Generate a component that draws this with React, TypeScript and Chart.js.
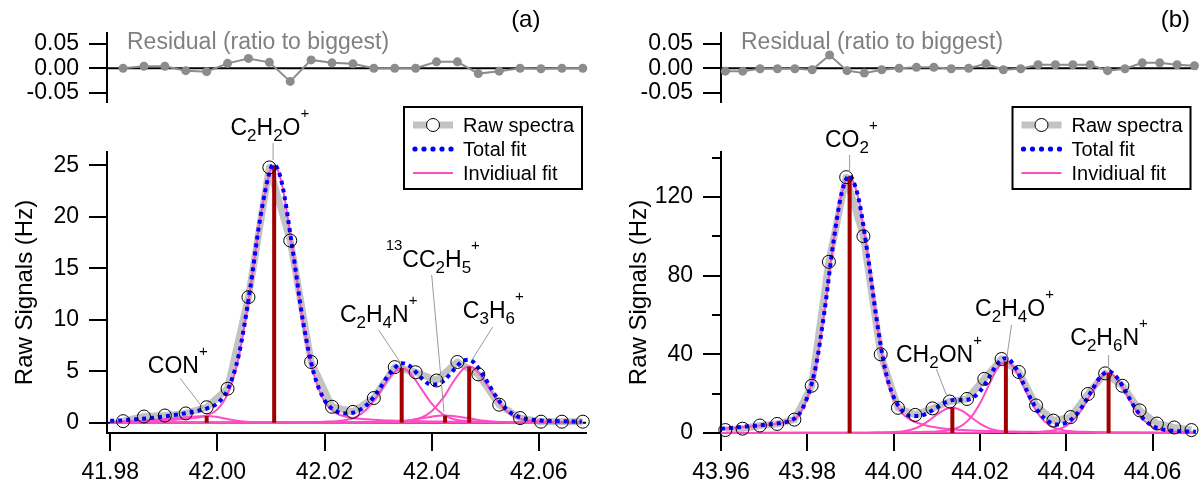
import React, { useEffect, useRef } from "react";
import { Chart, registerables } from "chart.js";

Chart.register(...registerables);

if (typeof document !== "undefined") {
  document.body.style.margin = "0";
}

const FONT = "'Liberation Sans', Arial, Helvetica, sans-serif";
Chart.defaults.font.family = FONT;

const C_RAW = "#c3c3c3";
const C_TOTAL = "#0000ff";
const C_INDIV = "#ff4dc4";
const C_STEM = "#a00000";
const C_RESID = "#8c8c8c";
const C_LEADER = "#9a9a9a";

// ---------------- Panel (a) data ----------------
const rawXA = [41.9824, 41.9863, 41.9902, 41.9941, 41.998, 42.0019, 42.0058, 42.0097, 42.0136, 42.0175, 42.0214, 42.0253, 42.0292, 42.0331, 42.037, 42.0409, 42.0448, 42.0487, 42.0526, 42.0565, 42.0604, 42.0643, 42.0682];
const rawYA = [0.15, 0.6, 0.7, 0.9, 1.5, 3.3, 12.2, 24.8, 17.7, 5.9, 1.55, 1.05, 2.4, 5.4, 4.9, 4.1, 5.9, 4.7, 1.75, 0.45, 0.1, 0.1, 0.1];
const residA = [0, 0.004, 0.004, -0.005, -0.007, 0.01, 0.02, 0.012, -0.027, 0.017, 0.011, 0.009, 0, 0, 0, 0.013, 0.013, -0.011, -0.006, 0, -0.001, 0, 0];

const fitXA = [41.98, 41.982, 41.984, 41.986, 41.988, 41.99, 41.992, 41.994, 41.996, 41.998, 42.0, 42.002, 42.004, 42.006, 42.008, 42.01, 42.0106, 42.012, 42.014, 42.016, 42.018, 42.02, 42.022, 42.024, 42.026, 42.028, 42.03, 42.032, 42.034, 42.0344, 42.036, 42.038, 42.04, 42.042, 42.0425, 42.044, 42.046, 42.047, 42.048, 42.05, 42.052, 42.054, 42.056, 42.058, 42.06, 42.062, 42.064, 42.066, 42.068];
const fitTotalA = [0.18, 0.22, 0.3, 0.38, 0.48, 0.61, 0.75, 0.91, 1.11, 1.38, 1.89, 3.28, 6.6, 12.61, 19.88, 24.76, 25.06, 23.37, 16.98, 9.79, 4.81, 2.19, 1.17, 0.9, 1.09, 1.79, 3.07, 4.67, 5.72, 5.78, 5.47, 4.38, 3.69, 3.97, 4.18, 5.07, 6.04, 6.11, 5.78, 4.28, 2.56, 1.28, 0.61, 0.33, 0.22, 0.18, 0.15, 0.13, 0.11];
const fitCON = [0.05, 0.08, 0.13, 0.19, 0.26, 0.34, 0.43, 0.52, 0.61, 0.65, 0.55, 0.34, 0.16, 0.07, 0.03, 0.015, 0.013, 0.01, 0.008, 0.006, 0.006, 0.005, 0.004, 0.004, 0.004, 0.003, 0.003, 0.003, 0.003, 0.003, 0.003, 0.003, 0.003, 0.002, 0.002, 0.002, 0.002, 0.002, 0.002, 0.002, 0.002, 0.002, 0.002, 0.002, 0.002, 0.002, 0.002, 0.002, 0.002];
const fitC2H2O = [0.11, 0.12, 0.15, 0.17, 0.2, 0.24, 0.29, 0.36, 0.47, 0.7, 1.3, 2.9, 6.4, 12.5, 19.8, 24.7, 25.0, 23.3, 16.9, 9.7, 4.7, 2.05, 0.98, 0.58, 0.42, 0.33, 0.26, 0.22, 0.19, 0.19, 0.17, 0.14, 0.12, 0.11, 0.11, 0.1, 0.09, 0.09, 0.08, 0.07, 0.07, 0.06, 0.06, 0.05, 0.05, 0.045, 0.04, 0.035, 0.03];
const fitC2H4N = [0.01, 0.01, 0.01, 0.01, 0.012, 0.013, 0.014, 0.015, 0.017, 0.018, 0.02, 0.02, 0.02, 0.025, 0.03, 0.03, 0.03, 0.04, 0.05, 0.06, 0.07, 0.1, 0.14, 0.26, 0.6, 1.38, 2.7, 4.29, 5.27, 5.3, 4.82, 3.34, 1.86, 0.84, 0.69, 0.36, 0.18, 0.15, 0.11, 0.08, 0.07, 0.05, 0.045, 0.04, 0.03, 0.03, 0.025, 0.02, 0.02];
const fit13CC2H5 = [0.002, 0.002, 0.002, 0.002, 0.002, 0.002, 0.002, 0.002, 0.002, 0.002, 0.003, 0.003, 0.003, 0.003, 0.003, 0.004, 0.004, 0.005, 0.005, 0.006, 0.006, 0.007, 0.009, 0.011, 0.014, 0.02, 0.033, 0.067, 0.13, 0.15, 0.26, 0.42, 0.59, 0.7, 0.7, 0.66, 0.51, 0.42, 0.33, 0.18, 0.095, 0.046, 0.025, 0.018, 0.012, 0.011, 0.01, 0.009, 0.008];
const fitC3H6 = [0.01, 0.01, 0.01, 0.01, 0.01, 0.01, 0.01, 0.01, 0.01, 0.01, 0.015, 0.015, 0.015, 0.015, 0.015, 0.015, 0.015, 0.018, 0.02, 0.022, 0.025, 0.03, 0.035, 0.04, 0.05, 0.06, 0.07, 0.09, 0.13, 0.14, 0.22, 0.48, 1.12, 2.32, 2.68, 3.95, 5.26, 5.45, 5.26, 3.95, 2.32, 1.12, 0.48, 0.22, 0.13, 0.09, 0.07, 0.06, 0.05];

const peakXA = [41.998, 42.0106, 42.0344, 42.0425, 42.047];
const peakHA = [0.65, 25.0, 5.3, 0.7, 5.45];
const peakNamesA = ["CON^+", "C_2H_2O^+", "C_2H_4N^+", "^{13}CC_2H_5^+", "C_3H_6^+"];

const xTicksA = [41.98, 42.0, 42.02, 42.04, 42.06];
const yTicksA = [0, 5, 10, 15, 20, 25];

// ---------------- Panel (b) data ----------------
const rawXB = [43.961, 43.965, 43.969, 43.973, 43.977, 43.981, 43.985, 43.989, 43.993, 43.997, 44.001, 44.005, 44.009, 44.013, 44.017, 44.021, 44.025, 44.029, 44.033, 44.037, 44.041, 44.045, 44.049, 44.053, 44.057, 44.061, 44.065, 44.069];
const rawYB = [1.5, 2.2, 3.8, 4.6, 6.8, 24, 87, 130, 100, 40, 12.8, 9.2, 12.5, 16, 17.3, 27.5, 37.6, 31, 14, 6.3, 8.1, 19.8, 30.3, 24, 11.5, 4.8, 2.8, 1.5];
const residB = [-0.006, -0.006, -0.001, -0.001, -0.001, -0.003, 0.027, -0.005, -0.01, -0.003, 0, 0.002, 0.002, -0.001, 0, 0.009, -0.003, -0.001, 0.007, 0.007, 0.007, 0.007, -0.005, -0.001, 0.011, 0.011, 0.007, 0.005];

const fitXB = [43.96, 43.962, 43.964, 43.966, 43.968, 43.97, 43.972, 43.974, 43.976, 43.978, 43.98, 43.982, 43.984, 43.986, 43.988, 43.9898, 43.99, 43.992, 43.994, 43.996, 43.998, 44.0, 44.002, 44.004, 44.006, 44.008, 44.01, 44.012, 44.0136, 44.014, 44.016, 44.018, 44.02, 44.022, 44.024, 44.026, 44.028, 44.03, 44.032, 44.034, 44.036, 44.038, 44.04, 44.042, 44.044, 44.046, 44.048, 44.0498, 44.05, 44.052, 44.054, 44.056, 44.058, 44.06, 44.062, 44.064, 44.066, 44.068, 44.07];
const fitTotalB = [2.22, 2.52, 2.93, 3.35, 3.65, 4.16, 4.57, 5.18, 6.2, 9.21, 18.23, 34.23, 62.25, 96.27, 122.3, 130.82, 130.62, 117.86, 90.42, 58.49, 32.61, 18.31, 11.23, 8.65, 8.67, 10.29, 12.98, 15.51, 16.69, 16.78, 16.81, 17.57, 21.19, 27.81, 35.1, 38.01, 34.13, 25.42, 16.38, 9.56, 5.67, 4.35, 5.24, 8.63, 14.41, 21.96, 28.75, 31.17, 31.17, 27.39, 20.04, 12.48, 6.94, 3.56, 1.97, 1.26, 0.95, 0.79, 0.67];
const fitCO2 = [2.1, 2.4, 2.8, 3.2, 3.5, 4.0, 4.4, 5.0, 6.0, 9.0, 18, 34, 62, 96, 122, 130.5, 130.3, 117.5, 90, 58, 32, 17.5, 10, 6.5, 4.8, 3.6, 2.8, 2.2, 1.9, 1.8, 1.5, 1.3, 1.1, 1.0, 0.9, 0.8, 0.72, 0.65, 0.58, 0.52, 0.47, 0.43, 0.4, 0.37, 0.34, 0.31, 0.29, 0.27, 0.27, 0.25, 0.24, 0.22, 0.21, 0.2, 0.19, 0.18, 0.17, 0.16, 0.15];
const fitCH2ON = [0.05, 0.05, 0.05, 0.06, 0.06, 0.06, 0.07, 0.07, 0.08, 0.08, 0.09, 0.09, 0.1, 0.1, 0.11, 0.12, 0.12, 0.14, 0.17, 0.22, 0.3, 0.45, 0.82, 1.67, 3.3, 6.0, 9.3, 12.05, 12.9, 12.85, 11.1, 7.9, 4.8, 2.5, 1.25, 0.62, 0.37, 0.26, 0.2, 0.16, 0.14, 0.12, 0.1, 0.09, 0.08, 0.07, 0.06, 0.055, 0.055, 0.05, 0.045, 0.04, 0.04, 0.035, 0.033, 0.03, 0.028, 0.026, 0.025];
const fitC2H4O = [0.05, 0.05, 0.06, 0.06, 0.06, 0.07, 0.07, 0.08, 0.08, 0.09, 0.1, 0.1, 0.11, 0.12, 0.14, 0.15, 0.15, 0.17, 0.19, 0.21, 0.25, 0.29, 0.34, 0.4, 0.48, 0.59, 0.77, 1.14, 1.76, 2.0, 4.06, 8.2, 15.1, 24.1, 32.7, 36.3, 32.7, 24.1, 15.1, 8.2, 4.06, 2.0, 1.14, 0.77, 0.59, 0.48, 0.4, 0.34, 0.34, 0.29, 0.25, 0.22, 0.19, 0.17, 0.155, 0.14, 0.125, 0.11, 0.1];
const fitC2H6N = [0.02, 0.02, 0.02, 0.03, 0.03, 0.03, 0.03, 0.03, 0.04, 0.04, 0.04, 0.04, 0.04, 0.05, 0.05, 0.05, 0.05, 0.05, 0.06, 0.06, 0.06, 0.07, 0.07, 0.08, 0.09, 0.1, 0.11, 0.12, 0.13, 0.13, 0.15, 0.17, 0.19, 0.21, 0.25, 0.29, 0.34, 0.41, 0.5, 0.68, 1.0, 1.8, 3.6, 7.4, 13.4, 21.1, 28.0, 30.5, 30.5, 26.8, 19.5, 12.0, 6.5, 3.15, 1.59, 0.91, 0.63, 0.49, 0.39];

const peakXB = [43.9898, 44.0136, 44.026, 44.0498];
const peakHB = [130.5, 12.9, 36.3, 30.5];
const peakNamesB = ["CO_2^+", "CH_2ON^+", "C_2H_4O^+", "C_2H_6N^+"];

const xTicksB = [43.96, 43.98, 44.0, 44.02, 44.04, 44.06];
const yTicksB = [0, 40, 80, 120];
const yMinorB = [20, 60, 100, 140];

const residTicks = [-0.05, 0, 0.05];

// label layout (data coordinates): label centre x, baseline y, leader line x1,y1 -> x2,y2
const labelLayoutA = [
  { cx: 41.9926, by: 4.83, x1: 41.993, y1: 4.34, x2: 41.9973, y2: 1.43 },
  { cx: 42.0098, by: 27.95, x1: 42.0104, y1: 27.17, x2: 42.0104, y2: 25.52 },
  { cx: 42.0301, by: 9.78, x1: 42.0301, y1: 9.0, x2: 42.0341, y2: 5.9 },
  { cx: 42.0402, by: 15.13, x1: 42.04, y1: 14.35, x2: 42.0423, y2: 1.04 },
  { cx: 42.0515, by: 10.17, x1: 42.0514, y1: 9.3, x2: 42.0475, y2: 6.09 },
];
const labelLayoutB = [
  { cx: 43.9902, by: 145.3, x1: 43.9898, y1: 141.3, x2: 43.9898, y2: 132.6 },
  { cx: 44.0105, by: 36.1, x1: 44.0099, y1: 32.5, x2: 44.0124, y2: 18.3 },
  { cx: 44.028, by: 59.5, x1: 44.0273, y1: 54.9, x2: 44.0262, y2: 38.1 },
  { cx: 44.0499, by: 44.7, x1: 44.0498, y1: 39.6, x2: 44.0498, y2: 32.0 },
];

// ---------------- helpers ----------------
type Pt = { x: number; y: number };
const zip = (xs: number[], ys: number[]): Pt[] => xs.map((x, i) => ({ x, y: ys[i] }));

type Seg = { t: string; k: 0 | 1 | 2 };
function parseRich(s: string): Seg[] {
  const out: Seg[] = [];
  let buf = "";
  let i = 0;
  const flush = () => {
    if (buf) {
      out.push({ t: buf, k: 0 });
      buf = "";
    }
  };
  while (i < s.length) {
    const c = s[i];
    if (c === "_" || c === "^") {
      flush();
      i++;
      let t = "";
      if (s[i] === "{") {
        i++;
        while (i < s.length && s[i] !== "}") t += s[i++];
        i++;
      } else if (c === "_") {
        while (i < s.length && /[0-9]/.test(s[i])) t += s[i++];
      } else {
        t = s[i++];
      }
      out.push({ t, k: c === "_" ? 1 : 2 });
    } else {
      buf += c;
      i++;
    }
  }
  flush();
  return out;
}

function drawRich(ctx: CanvasRenderingContext2D, s: string, cx: number, by: number, F: number) {
  const segs = parseRich(s);
  const fontFor = (k: number) => `${k === 0 ? F : Math.round(F * (k === 1 ? 0.74 : 0.66))}px ${FONT}`;
  let w = 0;
  for (const sg of segs) {
    ctx.font = fontFor(sg.k);
    w += ctx.measureText(sg.t).width;
  }
  let x = cx - w / 2;
  ctx.textAlign = "left";
  ctx.textBaseline = "alphabetic";
  ctx.fillStyle = "#000";
  for (const sg of segs) {
    ctx.font = fontFor(sg.k);
    const dy = sg.k === 1 ? F * 0.25 : sg.k === 2 ? -F * 0.74 : 0;
    ctx.fillText(sg.t, x, by + dy);
    x += ctx.measureText(sg.t).width;
  }
}

interface PanelSpec {
  tag: string;
  rawX: number[];
  rawY: number[];
  resid: number[];
  fitX: number[];
  total: number[];
  indiv: number[][];
  peakX: number[];
  peakH: number[];
  peakNames: string[];
  layout: { cx: number; by: number; x1: number; y1: number; x2: number; y2: number }[];
  xMin: number;
  xMax: number;
  yMin: number;
  yMax: number;
  xTicks: number[];
  yTicks: number[];
  yMinor: number[];
  zeroLine: boolean;
  padRight: number;
  panelLabel: string;
  panelLabelX: number;
}

const panelA: PanelSpec = {
  tag: "a",
  rawX: rawXA,
  rawY: rawYA,
  resid: residA,
  fitX: fitXA,
  total: fitTotalA,
  indiv: [fitCON, fitC2H2O, fitC2H4N, fit13CC2H5, fitC3H6],
  peakX: peakXA,
  peakH: peakHA,
  peakNames: peakNamesA,
  layout: labelLayoutA,
  xMin: 41.9794,
  xMax: 42.0688,
  yMin: -1.0,
  yMax: 26.3,
  xTicks: xTicksA,
  yTicks: yTicksA,
  yMinor: [],
  zeroLine: true,
  padRight: 14,
  panelLabel: "(a)",
  panelLabelX: 42.0603,
};

const panelB: PanelSpec = {
  tag: "b",
  rawX: rawXB,
  rawY: rawYB,
  resid: residB,
  fitX: fitXB,
  total: fitTotalB,
  indiv: [fitCO2, fitCH2ON, fitC2H4O, fitC2H6N],
  peakX: peakXB,
  peakH: peakHB,
  peakNames: peakNamesB,
  layout: labelLayoutB,
  xMin: 43.96,
  xMax: 44.0697,
  yMin: 0,
  yMax: 142.8,
  xTicks: xTicksB,
  yTicks: yTicksB,
  yMinor: yMinorB,
  zeroLine: false,
  padRight: 2,
  panelLabel: "(b)",
  panelLabelX: 44.068,
};

const zeroPad = (s: any) => {
  s.paddingTop = 0;
  s.paddingBottom = 0;
  s.paddingLeft = 0;
  s.paddingRight = 0;
};

const tickGrid = {
  display: true,
  drawOnChartArea: false,
  drawTicks: true,
  tickLength: 18,
  tickWidth: 2,
  tickColor: "#000",
  lineWidth: 2,
  color: "#000",
};

function mainConfig(p: PanelSpec): any {
  const datasets: any[] = [];
  datasets.push({
    data: zip(p.rawX, p.rawY),
    showLine: false,
    pointRadius: 6.5,
    pointHoverRadius: 6.5,
    pointBorderColor: "#000",
    pointBackgroundColor: "rgba(0,0,0,0)",
    pointBorderWidth: 1,
    order: 0,
    clip: false,
  });
  datasets.push({
    data: zip(p.fitX, p.total),
    borderColor: C_TOTAL,
    borderWidth: 4,
    borderDash: [4, 4],
    pointRadius: 0,
    cubicInterpolationMode: "monotone",
    order: 1,
    clip: false,
  });
  p.peakX.forEach((x, i) =>
    datasets.push({
      data: [
        { x, y: 0 },
        { x, y: p.peakH[i] },
      ],
      borderColor: C_STEM,
      borderWidth: 4,
      pointRadius: 0,
      order: 2,
      clip: false,
    })
  );
  p.indiv.forEach((ys) =>
    datasets.push({
      data: zip(p.fitX, ys),
      borderColor: C_INDIV,
      borderWidth: 2,
      pointRadius: 0,
      cubicInterpolationMode: "monotone",
      order: 3,
      clip: false,
    })
  );
  datasets.push({
    data: zip(p.rawX, p.rawY),
    borderColor: C_RAW,
    borderWidth: 7,
    borderJoinStyle: "round",
    pointRadius: 0,
    order: 4,
    clip: false,
  });

  const decor = {
    id: "mainDecor" + p.tag,
    beforeDatasetsDraw(chart: any) {
      const { ctx, chartArea: ca, scales } = chart;
      const y = scales.y;
      ctx.save();
      ctx.strokeStyle = "#000";
      ctx.lineWidth = 2;
      if (p.zeroLine) {
        const py = y.getPixelForValue(0);
        ctx.beginPath();
        ctx.moveTo(ca.left, py);
        ctx.lineTo(ca.right, py);
        ctx.stroke();
      }
      for (const v of p.yMinor) {
        const py = Math.round(y.getPixelForValue(v));
        ctx.beginPath();
        ctx.moveTo(ca.left - 9, py);
        ctx.lineTo(ca.left, py);
        ctx.stroke();
      }
      ctx.restore();
    },
    afterDatasetsDraw(chart: any) {
      const { ctx, chartArea: ca, scales } = chart;
      const x = scales.x;
      const y = scales.y;
      ctx.save();
      ctx.strokeStyle = C_LEADER;
      ctx.lineWidth = 1;
      p.layout.forEach((l) => {
        ctx.beginPath();
        ctx.moveTo(x.getPixelForValue(l.x1), y.getPixelForValue(l.y1));
        ctx.lineTo(x.getPixelForValue(l.x2), y.getPixelForValue(l.y2));
        ctx.stroke();
      });
      p.layout.forEach((l, i) => {
        drawRich(ctx, p.peakNames[i], x.getPixelForValue(l.cx), y.getPixelForValue(l.by), 23);
      });
      // legend
      const bx = ca.right - 183;
      const bw = 180;
      const by = 2;
      const bh = 84;
      ctx.fillStyle = "#fff";
      ctx.fillRect(bx, by, bw, bh);
      ctx.strokeStyle = "#000";
      ctx.lineWidth = 2;
      ctx.strokeRect(bx + 1, by + 1, bw - 2, bh - 2);
      const rows = [by + 19, by + 43, by + 67];
      const sx1 = bx + 10;
      const sx2 = bx + 50;
      ctx.strokeStyle = C_RAW;
      ctx.lineWidth = 7;
      ctx.beginPath();
      ctx.moveTo(sx1, rows[0]);
      ctx.lineTo(sx2, rows[0]);
      ctx.stroke();
      ctx.beginPath();
      ctx.arc((sx1 + sx2) / 2, rows[0], 6.5, 0, Math.PI * 2);
      ctx.fillStyle = "#fff";
      ctx.fill();
      ctx.strokeStyle = "#000";
      ctx.lineWidth = 1;
      ctx.stroke();
      ctx.fillStyle = C_TOTAL;
      for (let k = 0; k < 5; k++) {
        ctx.beginPath();
        ctx.arc(sx1 + 2 + k * 9, rows[1], 2.6, 0, Math.PI * 2);
        ctx.fill();
      }
      ctx.strokeStyle = C_INDIV;
      ctx.lineWidth = 2;
      ctx.beginPath();
      ctx.moveTo(sx1, rows[2]);
      ctx.lineTo(sx2, rows[2]);
      ctx.stroke();
      ctx.fillStyle = "#000";
      ctx.font = `20px ${FONT}`;
      ctx.textAlign = "left";
      ctx.textBaseline = "middle";
      ["Raw spectra", "Total fit", "Invidiual fit"].forEach((t, i) => ctx.fillText(t, bx + 60, rows[i] + 1));
      ctx.restore();
    },
  };

  return {
    type: "line",
    data: { datasets },
    options: {
      animation: false,
      responsive: false,
      maintainAspectRatio: false,
      events: [],
      layout: { padding: { top: 48, right: p.padRight, left: 0, bottom: 0 } },
      plugins: { legend: { display: false }, tooltip: { enabled: false } },
      scales: {
        x: {
          type: "linear",
          min: p.xMin,
          max: p.xMax,
          afterBuildTicks: (s: any) => {
            s.ticks = p.xTicks.map((v) => ({ value: v }));
          },
          afterFit: (s: any) => {
            s.height = 58;
            zeroPad(s);
          },
          grid: tickGrid,
          border: { display: true, color: "#000", width: 2 },
          ticks: {
            color: "#000",
            font: { family: FONT, size: 23 },
            padding: 8,
            maxRotation: 0,
            autoSkip: false,
            callback: (v: any) => Number(v).toFixed(2),
          },
        },
        y: {
          type: "linear",
          min: p.yMin,
          max: p.yMax,
          afterBuildTicks: (s: any) => {
            s.ticks = p.yTicks.map((v) => ({ value: v }));
          },
          afterFit: (s: any) => {
            s.width = 107;
            zeroPad(s);
          },
          grid: tickGrid,
          border: { display: true, color: "#000", width: 2 },
          ticks: {
            color: "#000",
            font: { family: FONT, size: 23 },
            padding: 10,
            autoSkip: false,
            callback: (v: any) => String(v),
          },
          title: {
            display: true,
            text: "Raw Signals (Hz)",
            color: "#000",
            font: { family: FONT, size: 24 },
            padding: { top: 11, bottom: 0 },
          },
        },
      },
    },
    plugins: [decor],
  };
}

function residConfig(p: PanelSpec): any {
  const decor = {
    id: "residDecor" + p.tag,
    beforeDatasetsDraw(chart: any) {
      const { ctx, chartArea: ca, scales } = chart;
      const py = scales.y.getPixelForValue(0);
      ctx.save();
      ctx.strokeStyle = "#000";
      ctx.lineWidth = 2;
      ctx.beginPath();
      ctx.moveTo(ca.left, py);
      ctx.lineTo(ca.right, py);
      ctx.stroke();
      ctx.fillStyle = "#808080";
      ctx.font = `23px ${FONT}`;
      ctx.textAlign = "left";
      ctx.textBaseline = "alphabetic";
      ctx.fillText("Residual (ratio to biggest)", ca.left + 20, 49);
      ctx.fillStyle = "#000";
      ctx.font = `24px ${FONT}`;
      ctx.textAlign = "right";
      ctx.fillText(p.panelLabel, scales.x.getPixelForValue(p.panelLabelX), 27);
      ctx.restore();
    },
  };
  return {
    type: "line",
    data: {
      datasets: [
        {
          data: zip(p.rawX, p.resid),
          borderColor: C_RESID,
          borderWidth: 2,
          pointRadius: 4.5,
          pointBackgroundColor: C_RESID,
          pointBorderWidth: 0,
          clip: false,
        },
      ],
    },
    options: {
      animation: false,
      responsive: false,
      maintainAspectRatio: false,
      events: [],
      layout: { padding: { top: 33, right: p.padRight, left: 0, bottom: 2 } },
      plugins: { legend: { display: false }, tooltip: { enabled: false } },
      scales: {
        x: { type: "linear", display: false, min: p.xMin, max: p.xMax },
        y: {
          type: "linear",
          min: -0.068,
          max: 0.072,
          afterBuildTicks: (s: any) => {
            s.ticks = residTicks.map((v) => ({ value: v }));
          },
          afterFit: (s: any) => {
            s.width = 107;
            zeroPad(s);
          },
          grid: tickGrid,
          border: { display: true, color: "#000", width: 2 },
          ticks: {
            color: "#000",
            font: { family: FONT, size: 23 },
            padding: 10,
            autoSkip: false,
            callback: (v: any) => Number(v).toFixed(2),
          },
        },
      },
    },
    plugins: [decor],
  };
}

function ChartCanvas(props: { config: any; left: number; top: number; width: number; height: number }) {
  const ref = useRef<HTMLCanvasElement>(null);
  useEffect(() => {
    const chart = new Chart(ref.current as HTMLCanvasElement, props.config);
    return () => chart.destroy();
  }, []);
  return (
    <canvas
      ref={ref}
      width={props.width}
      height={props.height}
      style={{ position: "absolute", left: props.left, top: props.top, width: props.width, height: props.height }}
    />
  );
}

export default function App() {
  return (
    <div style={{ position: "relative", width: 1202, height: 491, background: "#fff", overflow: "hidden" }}>
      <ChartCanvas config={residConfig(panelA)} left={0} top={0} width={600} height={106} />
      <ChartCanvas config={mainConfig(panelA)} left={0} top={104} width={600} height={387} />
      <ChartCanvas config={residConfig(panelB)} left={614} top={0} width={588} height={106} />
      <ChartCanvas config={mainConfig(panelB)} left={614} top={104} width={588} height={387} />
    </div>
  );
}
